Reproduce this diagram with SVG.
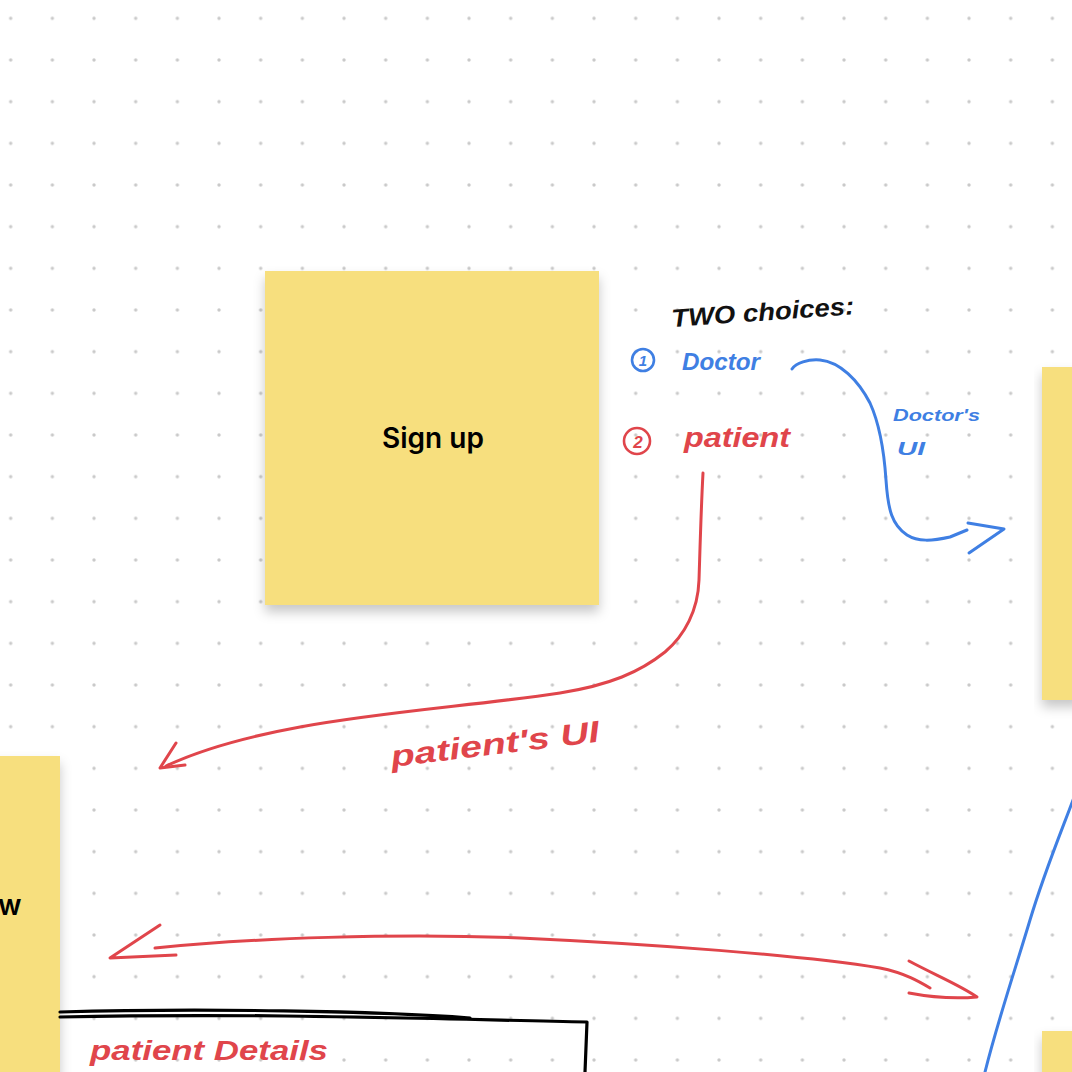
<svg xmlns="http://www.w3.org/2000/svg" width="1072" height="1072" viewBox="0 0 1072 1072">
<defs>
<pattern id="dots" x="-10.13" y="-2.5" width="41.667" height="41.667" patternUnits="userSpaceOnUse">
<circle cx="20.83" cy="20.83" r="1.7" fill="#c9c9c9"/>
</pattern>
<filter id="shadow" x="-20%" y="-20%" width="140%" height="150%">
<feDropShadow dx="0" dy="7" stdDeviation="6" flood-color="#000" flood-opacity="0.22"/>
</filter>
<style>
.note{fill:#f7df7e;filter:url(#shadow)}
.label{font-family:Inter,"Liberation Sans",sans-serif;font-weight:600;fill:#000}
.hand{font-family:"Liberation Sans","DejaVu Sans",sans-serif;font-style:italic;font-weight:bold}
.blue{stroke:#3f7fe3;fill:none;stroke-width:3;stroke-linecap:round;stroke-linejoin:round}
.red{stroke:#e0454b;fill:none;stroke-width:3;stroke-linecap:round;stroke-linejoin:round}
.ink{stroke:#000;fill:none;stroke-width:3.2;stroke-linecap:round;stroke-linejoin:round}
</style>
</defs>
<rect width="1072" height="1072" fill="#fff"/>
<rect width="1072" height="1072" fill="url(#dots)"/>

<g id="note-signup">
<rect class="note" x="265" y="271" width="334" height="334"/>
<text class="label" x="433" y="448" font-size="28" text-anchor="middle">Sign up</text>
</g>
<g id="note-right">
<rect class="note" x="1042" y="367" width="40" height="333"/>
</g>
<g id="note-left">
<rect class="note" x="-10" y="756" width="70" height="330"/>
<text class="label" x="-2" y="915" font-size="28">w</text>
</g>
<g id="note-bottom-right">
<rect class="note" x="1042" y="1031" width="40" height="60"/>
</g>

<g id="box-patient-details">
<path class="ink" d="M60 1012 C200 1008 380 1011 470 1018"/>
<path class="ink" d="M60 1017 C250 1013 400 1018 587 1022 L585 1072"/>
<text class="hand" x="90" y="1060" font-size="28" fill="#e0454b" textLength="238" lengthAdjust="spacingAndGlyphs">patient Details</text>
</g>

<g id="annotations">
<text class="hand" x="672" y="327" font-size="25" fill="#111" transform="rotate(-4 672 327)" textLength="183" lengthAdjust="spacingAndGlyphs">TWO choices:</text>
<circle cx="643" cy="360" r="11" fill="none" stroke="#3f7fe3" stroke-width="2.6"/>
<text class="hand" x="643" y="366" font-size="15" fill="#3f7fe3" text-anchor="middle">1</text>
<text class="hand" x="682" y="370" font-size="23" fill="#3f7fe3" textLength="78" lengthAdjust="spacingAndGlyphs">Doctor</text>
<circle cx="637" cy="441" r="13" fill="none" stroke="#e0454b" stroke-width="2.6"/>
<text class="hand" x="638" y="448" font-size="17" fill="#e0454b" text-anchor="middle">2</text>
<text class="hand" x="684" y="447" font-size="27" fill="#e0454b" textLength="106" lengthAdjust="spacingAndGlyphs">patient</text>
<text class="hand" x="893" y="421" font-size="17" fill="#3f7fe3" textLength="87" lengthAdjust="spacingAndGlyphs">Doctor's</text>
<text class="hand" x="897" y="455" font-size="19" fill="#3f7fe3" textLength="28" lengthAdjust="spacingAndGlyphs">UI</text>
<text class="hand" x="392" y="767" font-size="30" fill="#e0454b" transform="rotate(-7 392 767)" textLength="210" lengthAdjust="spacingAndGlyphs">patient's  UI</text>
</g>

<g id="connectors">
<path class="blue" d="M792 369 C796 363 808 359 820 360 C840 362 858 380 870 403 C880 425 884 450 886 480 C888 510 892 525 907 535 C918 542 932 541 950 537 L967 530"/>
<path class="blue" d="M968 523 L1004 529 L969 553"/>
<path class="blue" d="M1076 792 C1062 830 1045 870 1030 920 C1015 970 998 1020 985 1072"/>
<path class="red" d="M703 473 C701 510 700 550 699 580 C698 610 685 635 665 652 C640 672 610 685 560 693 C480 705 380 712 300 727 C240 738 200 750 166 766"/>
<path class="red" d="M176 743 L160 768 L185 765"/>
<path class="red" d="M155 948 C250 938 400 933 520 938 C650 944 800 955 880 968 C905 973 920 982 930 988"/>
<path class="red" d="M160 925 L110 958 L176 955"/>
<path class="red" d="M909 961 C935 975 960 985 977 997 C955 999 930 997 909 993"/>
</g>
</svg>
